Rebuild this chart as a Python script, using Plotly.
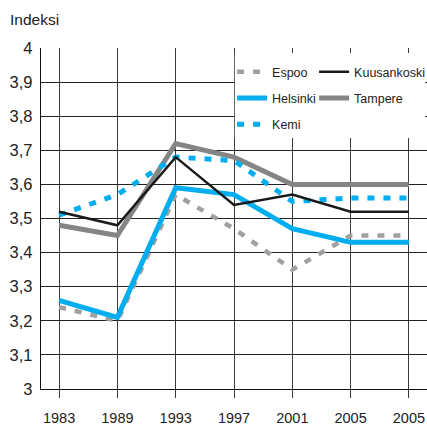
import plotly.graph_objects as go

years = ["1983", "1989", "1993", "1997", "2001", "2005", "2005"]
espoo = [3.24, 3.20, 3.57, 3.47, 3.35, 3.45, 3.45]
helsinki = [3.26, 3.21, 3.59, 3.57, 3.47, 3.43, 3.43]
kemi = [3.51, 3.57, 3.68, 3.67, 3.55, 3.56, 3.56]
kuusankoski = [3.52, 3.48, 3.68, 3.54, 3.57, 3.52, 3.52]
tampere = [3.48, 3.45, 3.72, 3.68, 3.60, 3.60, 3.60]
y_ticks = [3.0, 3.1, 3.2, 3.3, 3.4, 3.5, 3.6, 3.7, 3.8, 3.9, 4.0]
y_labels = ["3", "3,1", "3,2", "3,3", "3,4", "3,5", "3,6", "3,7", "3,8", "3,9", "4"]

xs = list(range(len(years)))
FONT = "Liberation Sans Narrow, Arial Narrow, Liberation Sans, Arial, sans-serif"
BLUE = "#00aeef"

fig = go.Figure()
# draw order: Tampere, Espoo, Kemi, Helsinki, Kuusankoski
fig.add_trace(go.Scatter(x=xs, y=tampere, name="Tampere", mode="lines",
                         line=dict(color="#858585", width=5), legend="legend2",
                         legendgroup="t", legendrank=2))
fig.add_trace(go.Scatter(x=xs, y=espoo, name="Espoo", mode="lines",
                         line=dict(color="#a0a0a0", width=4.5, dash="7px,9px"),
                         legend="legend", legendgroup="e", legendrank=1))
fig.add_trace(go.Scatter(x=xs, y=kemi, name="Kemi", mode="lines",
                         line=dict(color=BLUE, width=5, dash="7px,9px"),
                         legend="legend", legendgroup="k", legendrank=3))
fig.add_trace(go.Scatter(x=xs, y=helsinki, name="Helsinki", mode="lines",
                         line=dict(color=BLUE, width=5), legend="legend",
                         legendgroup="h", legendrank=2))
fig.add_trace(go.Scatter(x=xs, y=kuusankoski, name="Kuusankoski", mode="lines",
                         line=dict(color="#1a1a1a", width=2.5), legend="legend2",
                         legendgroup="ku", legendrank=1))

leg_common = dict(bgcolor="rgba(0,0,0,0)", borderwidth=0,
                  font=dict(family=FONT, size=12.5, color="#222"),
                  itemwidth=30, traceorder="grouped", tracegroupgap=7,
                  xanchor="left", yanchor="top", y=0.973)
fig.update_layout(
    width=427, height=427,
    margin=dict(l=41, r=0, t=48, b=38, autoexpand=False),
    paper_bgcolor="white", plot_bgcolor="white",
    showlegend=True,
    legend=dict(x=0.495, **leg_common),
    legend2=dict(x=0.7075, **leg_common),
    xaxis=dict(range=[-0.31, 6.31], tickvals=xs, ticktext=years, automargin=False,
               showgrid=True, gridcolor="#3a3a3a", gridwidth=1.3,
               ticks="outside", ticklen=8, tickcolor="#3a3a3a", tickwidth=1.3,
               ticklabelstandoff=7,
               showline=True, linecolor="#111", linewidth=1.3,
               tickfont=dict(family=FONT, size=14.5, color="#222"), zeroline=False),
    yaxis=dict(range=[3, 4], tickvals=y_ticks, ticktext=y_labels, automargin=False,
               showgrid=True, gridcolor="#222", gridwidth=1.3,
               showline=True, linecolor="#111", linewidth=1.3, ticks="",
               ticklabelstandoff=4,
               tickfont=dict(family=FONT, size=16.5, color="#222"), zeroline=False),
    shapes=[dict(type="rect", xref="paper", yref="paper", x0=0.502, x1=0.995,
                 y0=0.736, y1=0.985, fillcolor="white", line=dict(width=0),
                 layer="above")],
    annotations=[dict(text="Indeksi", xref="paper", yref="paper", x=-0.085, y=1.054,
                      xanchor="left", yanchor="bottom", showarrow=False,
                      font=dict(family=FONT, size=15.5, color="#222"))],
)
fig.write_html("out.html", config={"displayModeBar": False},
               post_script="document.body.style.margin='0';")
